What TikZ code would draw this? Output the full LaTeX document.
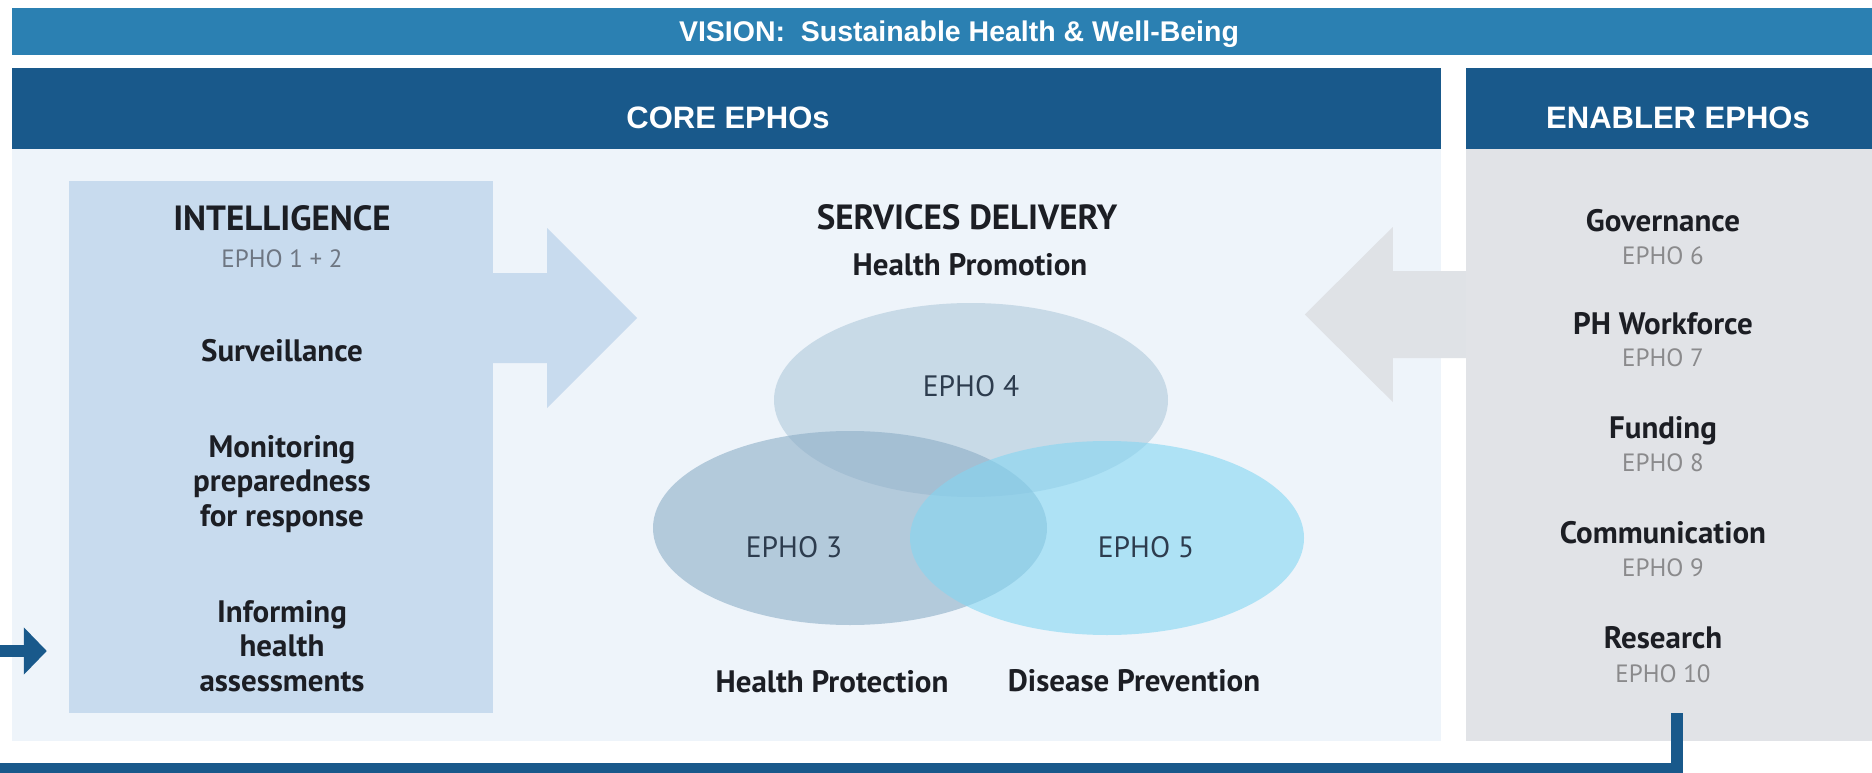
\documentclass[tikz,border=0pt]{standalone}
\usepackage{fontspec}
\setmainfont{PT Sans}
\newfontfamily\headfont{Liberation Sans}
\usetikzlibrary{calc,arrows.meta,shapes.geometric}

\definecolor{visionblue}{RGB}{43,128,178}
\definecolor{coreblue}{RGB}{25,89,139}
\definecolor{corebg}{RGB}{238,244,250}
\definecolor{enabbg}{RGB}{225,227,231}
\definecolor{intelbg}{RGB}{200,219,238}
\definecolor{enabarrow}{RGB}{223,226,230}
\definecolor{txt}{RGB}{28,30,36}
\definecolor{eptxt}{RGB}{138,138,140}
\definecolor{intelgray}{RGB}{110,118,130}
\definecolor{venntxt}{RGB}{45,60,78}
\definecolor{vennA}{RGB}{175,201,219}
\definecolor{vennB}{RGB}{141,174,199}
\definecolor{vennC}{RGB}{132,214,242}

\tikzset{
  headtext/.style={text=white, inner sep=0, anchor=base,
    font=\headfont\bfseries\fontsize{31}{36}\selectfont},
  bigtitle/.style={text=txt, inner sep=0, anchor=base,
    font=\bfseries\fontsize{35}{40}\selectfont},
  itemtext/.style={text=txt, inner sep=0, anchor=base, align=center,
    font=\bfseries\fontsize{31}{34.5}\selectfont},
  ephonum/.style={text=eptxt, inner sep=0, anchor=base,
    font=\fontsize{25}{30}\selectfont},
  venntext/.style={text=venntxt, inner sep=0, anchor=base,
    font=\fontsize{29.5}{34}\selectfont},
  vennset/.style={ellipse, draw=none, minimum width=394pt, minimum height=194pt,
    inner sep=0, fill opacity=0.6},
  feedback/.style={draw=coreblue, line width=12pt, line join=miter,
    -{Triangle[length=23pt,width=46pt]}},
}

\begin{document}
\begin{tikzpicture}[x=1pt,y=-1pt]
\path[use as bounding box] (0,0) rectangle (1872,773);
\clip (0,0) rectangle (1872,773);
\fill[white] (0,0) rectangle (1872,773);

% header bars
\fill[visionblue] (12,8) rectangle (1872,55);
\node[headtext, font=\headfont\bfseries\fontsize{28.5}{34}\selectfont] (vision) at (959,42)
  {VISION:\hspace{0.55em}Sustainable Health \& Well-Being};
\fill[coreblue] (12,68) rectangle (1441,149);
\fill[coreblue] (1466,68) rectangle (1872,149);
\node[headtext] (corehead) at (728,129) {CORE EPHOs};
\node[headtext] (enabhead) at (1678,129) {ENABLER EPHOs};

% panels
\fill[corebg] (12,149) rectangle (1441,741);
\node[rectangle, fill=enabbg, minimum width=406pt, minimum height=592pt, inner sep=0]
  (enab) at (1669,445) {};
\node[rectangle, fill=intelbg, minimum width=424pt, minimum height=532pt, inner sep=0]
  (intel) at (281,447) {};

% block arrows between the panels
\coordinate (arow) at (0,318);
\coordinate (erow) at (0,314.5);
\fill[intelbg] (intel.east |- arow) ++(0,-45) -- ++(54,0) -- ++(0,-45)
  -- ++(90,90) -- ++(-90,90) -- ++(0,-45) -- ++(-54,0) -- cycle;
\fill[enabarrow] (enab.west |- erow) ++(0,-43.5) -- ++(-73,0) -- ++(0,-44)
  -- ++(-88,87.5) -- ++(88,87.5) -- ++(0,-44) -- ++(73,0) -- cycle;

% intelligence column
\node[bigtitle] (intitle) at (282,230) {INTELLIGENCE};
\node[ephonum, text=intelgray] (intnum) at (282,267) {EPHO 1 + 2};
\node[itemtext] (surv) at (282,361) {Surveillance};
\node[itemtext] (monit) at (282,526) {Monitoring\\preparedness\\for response};
\node[itemtext] (inform) at (282,691) {Informing\\health\\assessments};

% services delivery
\node[bigtitle] (svtitle) at (967,229) {SERVICES DELIVERY};
\node[itemtext] (promo) at (970,275) {Health Promotion};
\node[vennset, fill=vennA] (e4) at (971,400) {};
\node[vennset, fill=vennB] (e3) at (850,528) {};
\node[vennset, fill=vennC] (e5) at (1107,538) {};
\node[venntext] (e4lbl) at (971,396) {EPHO 4};
\node[venntext] (e3lbl) at (794,557) {EPHO 3};
\node[venntext] (e5lbl) at (1146,557) {EPHO 5};
\node[itemtext] (protect) at (832,692) {Health Protection};
\node[itemtext] (prevent) at (1134,691) {Disease Prevention};

% enabler column
\node[itemtext] (gov) at (1663,231) {Governance};
\node[ephonum] (gov-n) at (1663,264) {EPHO 6};
\node[itemtext] (work) at (1663,334) {PH Workforce};
\node[ephonum] (work-n) at (1663,366) {EPHO 7};
\node[itemtext] (fund) at (1663,438) {Funding};
\node[ephonum] (fund-n) at (1663,471) {EPHO 8};
\node[itemtext] (comm) at (1663,543) {Communication};
\node[ephonum] (comm-n) at (1663,576) {EPHO 9};
\node[itemtext] (res) at (1663,648) {Research};
\node[ephonum] (res-n) at (1663,682) {EPHO 10};

% feedback loop from research back into intelligence
\coordinate (fbstart) at (1677,713);
\coordinate (fbtip) at ([xshift=-22pt]intel.west |- 0,651);
\draw[feedback] (fbstart) -- (1677,769) -- (-20,769) -- (-20,651) -- (fbtip);
\end{tikzpicture}
\end{document}
